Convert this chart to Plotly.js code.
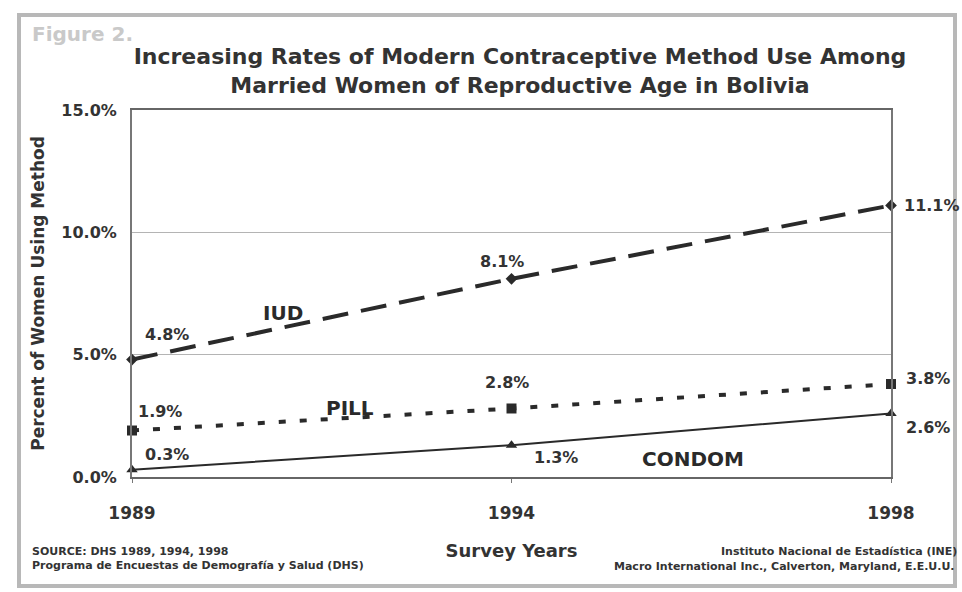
<!DOCTYPE html>
<html>
<head>
<meta charset="utf-8">
<script src="https://cdn.plot.ly/plotly-3.0.1.min.js"></script>
<style>
  html, body { margin: 0; padding: 0; background: #fff; }
  #chart { width: 962px; height: 592px; }
</style>
</head>
<body>
<div id="chart"></div>
<script>
// Survey years (equally spaced categories)
const years = ['1989', '1994', '1998'];

// Percent of married women of reproductive age using each method
const iud    = [4.8, 8.1, 11.1];
const pill   = [1.9, 2.8, 3.8];
const condom = [0.3, 1.3, 2.6];

const yTickVals = [0, 5, 10, 15];
const yTickText = ['0.0%', '5.0%', '10.0%', '15.0%'];

// Page geometry
const W = 962, H = 592;
const M = { l: 132, r: 71, t: 110, b: 115 };
const plotW = W - M.l - M.r;
const plotH = H - M.t - M.b;
const px = x => (x - M.l) / plotW;          // pixel -> paper x
const py = y => (M.t + plotH - y) / plotH;  // pixel -> paper y

const FONT = '"DejaVu Sans", Verdana, sans-serif';
const INK = '#2a2a2a';
const TXT = '#333';
const b = s => '<b>' + s + '</b>';

// Value label offsets (pixels from the point) per series
const iudOff    = [[35, 25], [-10, 17], [41, 0]];
const pillOff   = [[28, 19], [-5, 26], [37, 6]];
const condomOff = [[35, 15], [44, -12], [37, -14]];

function series(name, vals, dash, width, symbol, size) {
  return {
    type: 'scatter', mode: 'lines+markers', name: name,
    x: years, y: vals, cliponaxis: false,
    line: { color: INK, width: width, dash: dash },
    marker: { symbol: symbol, size: size, color: INK }
  };
}

const traces = [
  series('CONDOM', condom, 'solid', 2, 'triangle-up', 10),
  series('PILL', pill, '7px,14px', 4, 'square', 10),
  series('IUD', iud, '26px,13px', 4, 'diamond', 9)
];

// category axis: annotations placed by category index
function valueLabels(vals, offs) {
  return vals.map((v, i) => ({
    x: i, y: v, xref: 'x', yref: 'y',
    text: b(v.toFixed(1) + '%'), showarrow: false,
    xanchor: 'center', yanchor: 'middle',
    xshift: offs[i][0], yshift: offs[i][1],
    font: { family: FONT, size: 16, color: TXT }
  }));
}

const nameLabel = (text, x, y) => ({
  x: px(x), y: py(y), xref: 'paper', yref: 'paper', text: b(text),
  showarrow: false, xanchor: 'center', yanchor: 'middle',
  font: { family: FONT, size: 20, color: INK }
});

const noteLabel = (text, x, y, anchor, color, size) => ({
  x: px(x), y: py(y), xref: 'paper', yref: 'paper', text: b(text),
  showarrow: false, xanchor: anchor, yanchor: 'middle',
  font: { family: FONT, size: size, color: color }
});

const annotations = []
  .concat(valueLabels(iud, iudOff))
  .concat(valueLabels(pill, pillOff))
  .concat(valueLabels(condom, condomOff))
  .concat([
    nameLabel('IUD', 283, 313),
    nameLabel('PILL', 350, 408),
    nameLabel('CONDOM', 693, 459),
    noteLabel('Figure 2.', 30, 34, 'left', '#c9c9c9', 20),
    noteLabel('SOURCE: DHS 1989, 1994, 1998', 30, 551, 'left', TXT, 11),
    noteLabel('Programa de Encuestas de Demografía y Salud (DHS)', 30, 565, 'left', TXT, 11),
    noteLabel('Instituto Nacional de Estadística (INE)', 959, 551, 'right', TXT, 11),
    noteLabel('Macro International Inc., Calverton, Maryland, E.E.U.U.', 957, 566, 'right', TXT, 11)
  ]);

const layout = {
  width: W, height: H,
  margin: M,
  paper_bgcolor: '#ffffff',
  plot_bgcolor: '#ffffff',
  showlegend: false,
  font: { family: FONT, color: TXT },
  title: {
    text: b('Increasing Rates of Modern Contraceptive Method Use Among<br>Married Women of Reproductive Age in Bolivia'),
    font: { family: FONT, size: 22, color: TXT },
    x: 520 / W, xref: 'container', xanchor: 'center',
    y: 1 - 64 / H, yref: 'container', yanchor: 'middle'
  },
  xaxis: {
    type: 'category', range: [0, 2],
    showgrid: false, zeroline: false,
    showline: true, linecolor: '#666', linewidth: 2, mirror: true,
    ticks: 'outside', ticklen: 4, tickcolor: '#777',
    ticklabelstandoff: 16,
    tickfont: { family: FONT, size: 17, color: TXT },
    tickprefix: '<b>', ticksuffix: '</b>',
    title: { text: b('Survey Years'), font: { family: FONT, size: 18, color: TXT }, standoff: 22 }
  },
  yaxis: {
    range: [0, 15], tickvals: yTickVals, ticktext: yTickText.map(b),
    showgrid: true, gridcolor: '#b4b4b4', gridwidth: 1.5,
    zeroline: false,
    showline: true, linecolor: '#777', linewidth: 2, mirror: true,
    ticks: '', ticklabelstandoff: 10,
    tickfont: { family: FONT, size: 16, color: TXT },
    title: { text: b('Percent of Women Using Method'), font: { family: FONT, size: 17, color: TXT }, standoff: 12 }
  },
  annotations: annotations,
  shapes: [
    // outer figure frame
    { type: 'rect', xref: 'paper', yref: 'paper', layer: 'below',
      x0: px(19), x1: px(955), y0: py(15), y1: py(586),
      line: { color: '#b8b8b8', width: 4 }, fillcolor: 'rgba(0,0,0,0)' }
  ]
};

Plotly.newPlot('chart', traces, layout, { staticPlot: true, displayModeBar: false });
</script>
</body>
</html>
